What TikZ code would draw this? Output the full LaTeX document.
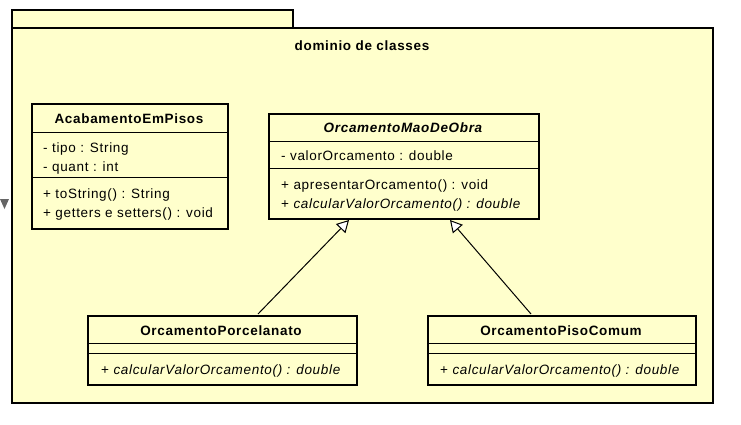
\documentclass[tikz,border=0pt]{standalone}
\usepackage{fontspec}
\setmainfont{Liberation Sans}[LetterSpace=5]
\usetikzlibrary{arrows.meta}
\definecolor{umlyellow}{RGB}{255,255,204}
\tikzset{
    classbox/.style={draw=black, fill=umlyellow, line width=2pt, inner sep=0pt, anchor=north west},
    member/.style={anchor=mid west, inner sep=0pt, font=\fontsize{13.5}{16}\selectfont},
    classname/.style={anchor=mid, inner sep=0pt, font=\fontsize{13.5}{16}\selectfont\bfseries},
    divider/.style={line width=1pt},
    generalization/.style={line width=1pt, -{Triangle[length=12pt, width=13pt, fill=white, line width=1pt]}}
}

\begin{document}
\begin{tikzpicture}[x=1pt, y=-1pt]
        \useasboundingbox (0,0) rectangle (741,424);

        \filldraw[color=black, fill=umlyellow, line width=2pt] (12,10) rectangle (293,28);
        \filldraw[color=black, fill=umlyellow, line width=2pt] (12,28) rectangle (713,403);
        \fill[black!60] (0,199) -- (9,199) -- (4.5,209) -- cycle;
        \node[classname] (pkg) at (362,47.5) {dominio de classes};

        \node[classbox, minimum width=196pt, minimum height=125pt] (acab) at (31,103) {};
        \draw[divider] (31,132) -- (227,132);
        \draw[divider] (31,177) -- (227,177);
        \node[classname] (acabName) at (129,120.5) {AcabamentoEmPisos};
        \node[member] (acabTipo) at (43,149.5) {- tipo : String};
        \node[member] (acabQuant) at (43,168.5) {- quant : int};
        \node[member] (acabToString) at (43,195.5) {+ toString() : String};
        \node[member] (acabGetters) at (43,214.5) {+ getters e setters() : void};

        \node[classbox, minimum width=270pt, minimum height=105pt] (mao) at (268,113) {};
        \draw[divider] (268,141) -- (538,141);
        \draw[divider] (268,168) -- (538,168);
        \node[classname, font=\fontsize{13.5}{16}\selectfont\bfseries\itshape] (maoName) at (403,129.5) {OrcamentoMaoDeObra};
        \node[member] (maoValor) at (281,157.5) {- valorOrcamento : double};
        \node[member] (maoApresentar) at (281,186.5) {+ apresentarOrcamento() : void};
        \node[member] (maoCalcular) at (281,205.5) {+ \textit{calcularValorOrcamento() : double}};

        \node[classbox, minimum width=269pt, minimum height=69pt] (porc) at (87,315) {};
        \draw[divider] (87,343) -- (356,343);
        \draw[divider] (87,353) -- (356,353);
        \node[classname] (porcName) at (221,332.5) {OrcamentoPorcelanato};
        \node[member] (porcCalcular) at (101,371.5) {+ \textit{calcularValorOrcamento() : double}};

        \node[classbox, minimum width=268pt, minimum height=69pt] (piso) at (427,315) {};
        \draw[divider] (427,343) -- (695,343);
        \draw[divider] (427,353) -- (695,353);
        \node[classname] (pisoName) at (561,332.5) {OrcamentoPisoComum};
        \node[member] (pisoCalcular) at (440,371.5) {+ \textit{calcularValorOrcamento() : double}};

        \coordinate (porcTop) at (258,314);
        \coordinate (maoLeft) at (349,220);
        \coordinate (pisoTop) at (531,314);
        \coordinate (maoRight) at (450,220);
        \draw[generalization] (porcTop) -- (maoLeft);
        \draw[generalization] (pisoTop) -- (maoRight);
    \end{tikzpicture}
\end{document}
